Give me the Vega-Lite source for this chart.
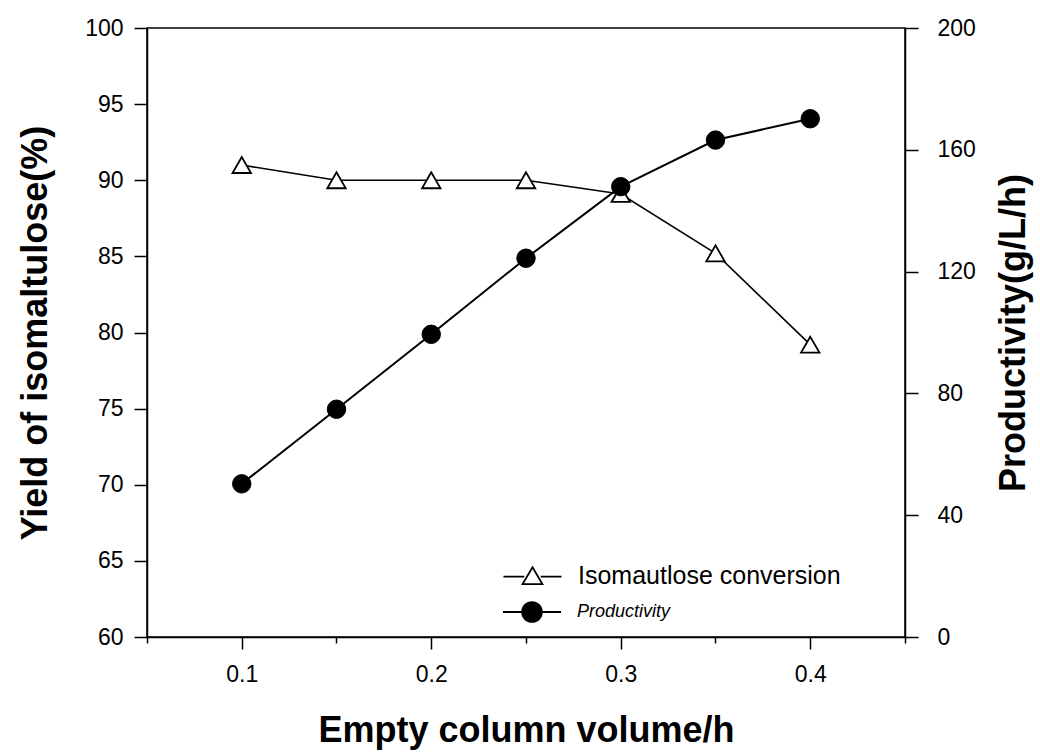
{
  "$schema": "https://vega.github.io/schema/vega-lite/v6.json",
  "width": 758,
  "height": 609,
  "autosize": {"type": "none"},
  "padding": {"left": 147, "top": 28, "right": 135, "bottom": 119},
  "background": "white",
  "datasets": {
    "main": [
      {"volume": 0.1, "yield": 91.0, "productivity": 50.3},
      {"volume": 0.15, "yield": 90.0, "productivity": 74.8},
      {"volume": 0.2, "yield": 90.0, "productivity": 99.4},
      {"volume": 0.25, "yield": 90.0, "productivity": 124.4},
      {"volume": 0.3, "yield": 89.1, "productivity": 147.9},
      {"volume": 0.35, "yield": 85.2, "productivity": 163.2},
      {"volume": 0.4, "yield": 79.2, "productivity": 170.2}
    ],
    "series": [
      {"series": "Isomautlose conversion"},
      {"series": "Productivity"}
    ]
  },
  "config": {
    "font": "Liberation Sans",
    "view": {"stroke": "black", "strokeWidth": 1.5},
    "axis": {
      "grid": false,
      "domainColor": "black",
      "domainWidth": 1.5,
      "tickColor": "black",
      "tickWidth": 1.5,
      "labelColor": "black",
      "labelFont": "Liberation Sans",
      "labelFontSize": 23,
      "titleColor": "black",
      "titleFont": "Liberation Sans",
      "titleFontSize": 36,
      "titleFontWeight": "bold"
    },
    "legend": {
      "labelFont": "Liberation Sans",
      "labelColor": "black",
      "symbolSize": 484,
      "symbolStrokeWidth": 1.8,
      "labelOffset": 33,
      "labelLimit": 400,
      "padding": 0
    }
  },
  "layer": [
    {
      "data": {"name": "main"},
      "encoding": {
        "x": {
          "field": "volume",
          "type": "quantitative",
          "scale": {"domain": [0.05, 0.45], "nice": false, "zero": false},
          "axis": {
            "title": "Empty column volume/h",
            "values": [0.05, 0.1, 0.15, 0.2, 0.25, 0.3, 0.35, 0.4, 0.45],
            "labelExpr": "(abs(datum.value*10 - round(datum.value*10)) < 0.001 && datum.value > 0.07 && datum.value < 0.43) ? format(datum.value, '.1f') : ''",
            "tickSize": {"condition": {"test": "abs(datum.value*10 - round(datum.value*10)) < 0.001", "value": 12}, "value": 6},
            "labelPadding": 14,
            "titlePadding": 27,
            "labelFlush": false,
            "labelOverlap": false
          }
        },
        "y": {
          "field": "yield",
          "type": "quantitative",
          "scale": {"domain": [60, 100], "nice": false, "zero": false},
          "axis": {
            "orient": "left",
            "title": "Yield of isomaltulose(%)",
            "values": [60, 65, 70, 75, 80, 85, 90, 95, 100],
            "tickSize": 13,
            "labelPadding": 11,
            "titlePadding": 30
          }
        }
      },
      "layer": [
        {"mark": {"type": "line", "color": "black", "strokeWidth": 1.6}},
        {"mark": {"type": "point", "shape": "triangle-up", "size": 340, "filled": true, "fill": "white", "stroke": "black", "strokeWidth": 1.8, "opacity": 1}}
      ]
    },
    {
      "data": {"name": "main"},
      "encoding": {
        "x": {"field": "volume", "type": "quantitative"},
        "y": {
          "field": "productivity",
          "type": "quantitative",
          "scale": {"domain": [0, 200], "nice": false, "zero": false},
          "axis": {
            "orient": "right",
            "title": "Productivity(g/L/h)",
            "values": [0, 40, 80, 120, 160, 200],
            "tickSize": 13,
            "labelPadding": 19,
            "titlePadding": 57,
            "titleAngle": 270
          }
        }
      },
      "layer": [
        {"mark": {"type": "line", "color": "black", "strokeWidth": 2}},
        {"mark": {"type": "point", "shape": "circle", "size": 340, "filled": true, "fill": "black", "stroke": "black", "strokeWidth": 1, "opacity": 1}}
      ]
    },
    {
      "data": {"name": "series"},
      "transform": [{"filter": "false"}],
      "mark": {"type": "point", "filled": true, "strokeWidth": 1.8, "opacity": 1},
      "encoding": {
        "shape": {
          "field": "series",
          "type": "nominal",
          "scale": {
            "domain": ["Isomautlose conversion"],
            "range": ["M-2.64,0.1L-0.75,0.1M0.75,0.1L2.64,0.1M0,-0.75L0.9,0.78L-0.9,0.78Z"]
          },
          "legend": {
            "title": null,
            "orient": "none",
            "legendX": 373,
            "legendY": 535,
            "labelFontSize": 25
          }
        },
        "fill": {
          "field": "series",
          "type": "nominal",
          "scale": {"domain": ["Isomautlose conversion"], "range": ["white"]},
          "legend": {
            "title": null,
            "orient": "none",
            "legendX": 373,
            "legendY": 535,
            "labelFontSize": 25
          }
        },
        "stroke": {
          "field": "series",
          "type": "nominal",
          "scale": {"domain": ["Isomautlose conversion"], "range": ["black"]},
          "legend": {
            "title": null,
            "orient": "none",
            "legendX": 373,
            "legendY": 535,
            "labelFontSize": 25
          }
        }
      }
    },
    {
      "data": {"name": "series"},
      "transform": [{"filter": "false"}],
      "mark": {"type": "point", "filled": true, "strokeWidth": 1.8, "opacity": 1},
      "encoding": {
        "shape": {
          "field": "series",
          "type": "nominal",
          "scale": {
            "domain": ["Productivity"],
            "range": ["M-2.64,0L-0.9,0M0.9,0L2.64,0M0.9,0A0.9,0.9,0,1,1,-0.9,0A0.9,0.9,0,1,1,0.9,0Z"]
          },
          "legend": {
            "title": null,
            "orient": "none",
            "legendX": 373,
            "legendY": 572,
            "labelFontSize": 18,
            "labelFontStyle": "italic"
          }
        },
        "fill": {
          "field": "series",
          "type": "nominal",
          "scale": {"domain": ["Productivity"], "range": ["black"]},
          "legend": {
            "title": null,
            "orient": "none",
            "legendX": 373,
            "legendY": 572,
            "labelFontSize": 18,
            "labelFontStyle": "italic"
          }
        },
        "stroke": {
          "field": "series",
          "type": "nominal",
          "scale": {"domain": ["Productivity"], "range": ["black"]},
          "legend": {
            "title": null,
            "orient": "none",
            "legendX": 373,
            "legendY": 572,
            "labelFontSize": 18,
            "labelFontStyle": "italic"
          }
        }
      }
    }
  ],
  "resolve": {"scale": {"y": "independent", "shape": "independent", "fill": "independent", "stroke": "independent"}}
}
